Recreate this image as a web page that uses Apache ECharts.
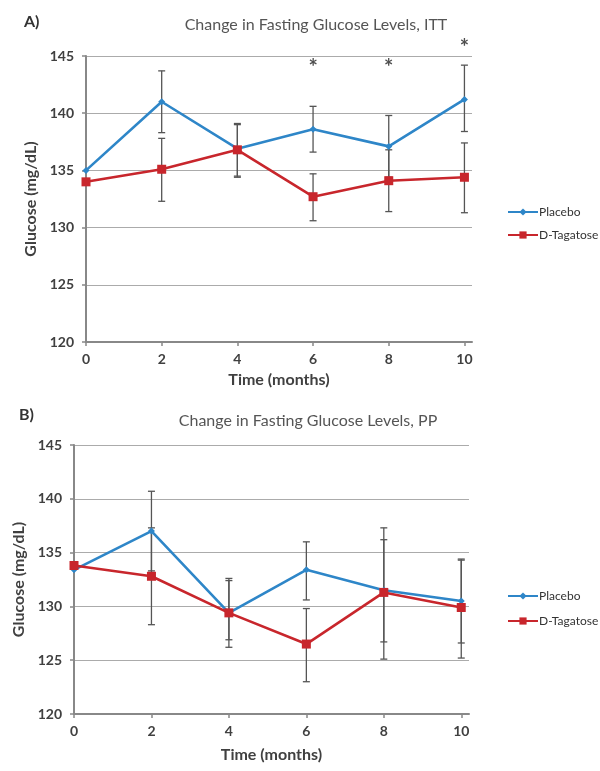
<!DOCTYPE html>
<html>
<head>
<meta charset="utf-8">
<script src="https://cdn.jsdelivr.net/npm/echarts@6/dist/echarts.min.js"></script>
<style>
  html, body { margin: 0; padding: 0; background: #fff; }
  #chart { width: 600px; height: 771px; }
</style>
</head>
<body>
<div id="chart"></div>
<script>
// months
var months = [0, 2, 4, 6, 8, 10];
var yTicks = [120, 125, 130, 135, 140, 145];

// A) ITT
var placeboA = [135.0, 141.0, 136.9, 138.6, 137.1, 141.2];
var tagatoseA = [134.0, 135.1, 136.8, 132.7, 134.1, 134.4];
var placeboErrA = [null, [138.3, 143.7], [134.4, 139.1], [136.6, 140.6], [134.4, 139.8], [138.4, 144.2]];
var tagatoseErrA = [null, [132.3, 137.8], [134.5, 139.0], [130.6, 134.7], [131.4, 136.8], [131.3, 137.4]];
var starsA = [[6, 144.6], [8, 144.6], [10, 146.3]];

// B) PP
var placeboB = [133.4, 137.0, 129.4, 133.4, 131.5, 130.5];
var tagatoseB = [133.8, 132.8, 129.4, 126.5, 131.3, 129.9];
var placeboErrB = [null, [133.3, 140.7], [126.2, 132.6], [130.6, 136.0], [126.7, 136.2], [126.6, 134.4]];
var tagatoseErrB = [null, [128.3, 137.3], [126.9, 132.4], [123.0, 129.8], [125.1, 137.3], [125.2, 134.3]];

var BLUE = '#2E86C8';
var RED = '#C8262C';
var TXT = '#404040';
var FONT = 'Lato';

function pairs(vals) {
	return months.map(function (m, i) { return [m, vals[i]]; });
}
function errData(errs) {
	var out = [];
	errs.forEach(function (e, i) {
		if (e) out.push([months[i], e[0], e[1]]);
	});
	return out;
}
function renderErr(params, api) {
	var x = api.value(0);
	var lo = api.coord([x, api.value(1)]);
	var hi = api.coord([x, api.value(2)]);
	var w = 3.5;
	var st = { stroke: '#555', lineWidth: 1.3 };
	return {
		type: 'group',
		children: [
			{ type: 'line', shape: { x1: lo[0], y1: lo[1], x2: hi[0], y2: hi[1] }, style: st },
			{ type: 'line', shape: { x1: lo[0] - w, y1: lo[1], x2: lo[0] + w, y2: lo[1] }, style: st },
			{ type: 'line', shape: { x1: hi[0] - w, y1: hi[1], x2: hi[0] + w, y2: hi[1] }, style: st }
		]
	};
}

function xAxisFor(gi, gap) {
	return {
		type: 'value', gridIndex: gi, min: 0, max: 10.2,
		name: 'Time (months)', nameLocation: 'middle', nameGap: gap,
		nameTextStyle: { color: TXT, fontSize: 16, fontWeight: 'bold', fontFamily: FONT },
		axisLine: { lineStyle: { color: '#888', width: 2 } },
		axisTick: { show: true, length: 4, customValues: months, lineStyle: { color: '#888', width: 1.5 } },
		axisLabel: { customValues: months, color: TXT, fontSize: 14, fontWeight: 'bold', fontFamily: FONT, margin: 10 },
		splitLine: { show: false }
	};
}
function yAxisFor(gi) {
	return {
		type: 'value', gridIndex: gi, min: 120, max: 145, interval: 5,
		name: 'Glucose (mg/dL)', nameLocation: 'middle', nameGap: 46, nameRotate: 90,
		nameTextStyle: { color: TXT, fontSize: 16, fontWeight: 'bold', fontFamily: FONT },
		axisLine: { show: true, lineStyle: { color: '#888', width: 2 } },
		axisTick: { show: true, length: 4, lineStyle: { color: '#888', width: 1.5 } },
		axisLabel: { color: TXT, fontSize: 14, fontWeight: 'bold', fontFamily: FONT, margin: 12 },
		splitLine: { show: true, lineStyle: { color: '#ababab', width: 1.2 } }
	};
}
function lineSeries(name, gi, vals, color, symbol, size) {
	return {
		name: name, type: 'line', xAxisIndex: gi, yAxisIndex: gi,
		data: pairs(vals), symbol: symbol, symbolSize: size, z: 3,
		lineStyle: { color: color, width: 2.6 },
		itemStyle: { color: color }
	};
}
function errSeries(gi, errs) {
	return {
		type: 'custom', xAxisIndex: gi, yAxisIndex: gi, z: 2,
		renderItem: renderErr, data: errData(errs), silent: true
	};
}
function legendAt(top, gap) {
	return {
		orient: 'vertical', left: 502, top: top, itemGap: gap,
		itemWidth: 30, itemHeight: 9,
		data: ['Placebo', 'D-Tagatose'],
		textStyle: { color: '#333', fontSize: 12, fontFamily: FONT, padding: [0, 0, 0, -4] }
	};
}

var myChart = echarts.init(document.getElementById('chart'));
var option = {
	backgroundColor: '#fff',
	animation: false,
	title: [
		{ text: 'A)', left: 19, top: 9, textStyle: { color: '#333', fontSize: 16, fontWeight: 'bold', fontFamily: FONT } },
		{ text: 'Change in Fasting Glucose Levels, ITT', left: 311, top: 12, textAlign: 'center',
			textStyle: { color: '#555', fontSize: 16, fontWeight: 'normal', fontFamily: FONT } },
		{ text: 'B)', left: 14, top: 402, textStyle: { color: '#333', fontSize: 16, fontWeight: 'bold', fontFamily: FONT } },
		{ text: 'Change in Fasting Glucose Levels, PP', left: 303, top: 408, textAlign: 'center',
			textStyle: { color: '#555', fontSize: 16, fontWeight: 'normal', fontFamily: FONT } }
	],
	legend: [legendAt(201, 11), legendAt(585, 13)],
	grid: [
		{ left: 86, right: 128, top: 56, bottom: 429 },
		{ left: 74, right: 131, top: 445, bottom: 57 }
	],
	xAxis: [xAxisFor(0, 30), xAxisFor(1, 33)],
	yAxis: [yAxisFor(0), yAxisFor(1)],
	series: [
		errSeries(0, placeboErrA),
		errSeries(0, tagatoseErrA),
		lineSeries('Placebo', 0, placeboA, BLUE, 'diamond', 7),
		lineSeries('D-Tagatose', 0, tagatoseA, RED, 'rect', 9),
		{
			type: 'scatter', xAxisIndex: 0, yAxisIndex: 0, clip: false, silent: true,
			data: starsA, symbolSize: 1, itemStyle: { color: 'rgba(0,0,0,0)' },
			label: { show: true, position: 'inside', offset: [0, 7], formatter: '*', color: '#222', fontSize: 22, fontWeight: 'bold', fontFamily: FONT }
		},
		errSeries(1, placeboErrB),
		errSeries(1, tagatoseErrB),
		lineSeries('Placebo', 1, placeboB, BLUE, 'diamond', 7),
		lineSeries('D-Tagatose', 1, tagatoseB, RED, 'rect', 9)
	]
};
myChart.setOption(option);
</script>
</body>
</html>
